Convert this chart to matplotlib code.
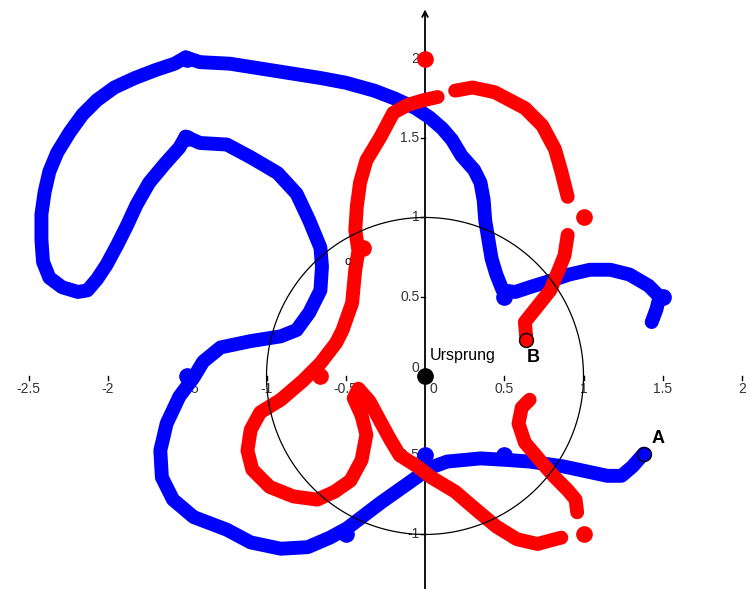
import numpy as np
import matplotlib.pyplot as plt

# Spur von A (blau)
blau_links_x = [-1.51, -1.58, -1.70, -1.83, -1.96, -2.07, -2.16, -2.24, -2.32, -2.37, -2.40, -2.42, -2.42,
                -2.41, -2.37, -2.29, -2.19, -2.13, -2.07, -2.01, -1.94, -1.88, -1.82, -1.74, -1.64, -1.55, -1.51]
blau_links_y = [2.01, 1.97, 1.93, 1.88, 1.82, 1.74, 1.65, 1.54, 1.41, 1.29, 1.16, 1.02, 0.86,
                0.72, 0.62, 0.56, 0.53, 0.54, 0.61, 0.70, 0.83, 0.95, 1.08, 1.22, 1.34, 1.44, 1.51]

blau_oben_x = [-1.51, -1.42, -1.23, -1.04, -0.85, -0.66, -0.50, -0.32, -0.19, -0.06, 0.03, 0.11, 0.17, 0.23,
               0.31, 0.35, 0.37, 0.38, 0.40, 0.42, 0.45, 0.49, 0.57, 0.66, 0.79, 0.91, 1.04, 1.17, 1.29,
               1.41, 1.48, 1.46, 1.43]
blau_oben_y = [2.01, 1.98, 1.97, 1.94, 1.91, 1.88, 1.85, 1.80, 1.75, 1.69, 1.63, 1.56, 1.49, 1.39,
               1.30, 1.22, 1.11, 0.98, 0.86, 0.74, 0.64, 0.54, 0.53, 0.56, 0.60, 0.64, 0.67, 0.67, 0.64,
               0.57, 0.50, 0.42, 0.34]

blau_innen_x = [-1.51, -1.42, -1.25, -1.10, -0.93, -0.81, -0.73, -0.66, -0.65, -0.66, -0.73, -0.81, -0.91,
                -1.10, -1.29, -1.40, -1.46, -1.55, -1.63, -1.67, -1.66, -1.59, -1.46, -1.25, -1.10, -0.91,
                -0.74, -0.60, -0.49, -0.28, -0.11, 0.03, 0.14, 0.35, 0.52, 0.66, 0.87, 1.15, 1.24, 1.31, 1.38]
blau_innen_y = [1.51, 1.47, 1.46, 1.38, 1.28, 1.15, 0.98, 0.81, 0.69, 0.54, 0.40, 0.29, 0.25,
                0.22, 0.18, 0.09, -0.01, -0.13, -0.30, -0.47, -0.64, -0.78, -0.89, -0.97, -1.05, -1.09,
                -1.08, -1.02, -0.96, -0.80, -0.68, -0.58, -0.54, -0.52, -0.53, -0.54, -0.57, -0.63, -0.63,
                -0.57, -0.49]

blau_punkte_x = [-1.5, -1.5, -1.5, -0.5, 0.0, 0.5, 1.5, 0.5]
blau_punkte_y = [2.0, 1.5, 0.0, -1.0, -0.5, -0.5, 0.5, 0.5]

# Spur von B (rot)
rot_b_x = [0.64, 0.63, 0.71, 0.79, 0.84, 0.88, 0.90]
rot_b_y = [0.23, 0.34, 0.44, 0.54, 0.66, 0.76, 0.89]

rot_bogen_x = [0.19, 0.30, 0.44, 0.63, 0.74, 0.82, 0.86, 0.90]
rot_bogen_y = [1.80, 1.82, 1.79, 1.69, 1.58, 1.43, 1.29, 1.13]

rot_lang_x = [0.08, -0.01, -0.11, -0.20, -0.28, -0.37, -0.41, -0.43, -0.44, -0.42, -0.44, -0.46, -0.52,
              -0.56, -0.66, -0.77, -0.91, -1.04, -1.10, -1.12, -1.09, -0.98, -0.83, -0.68, -0.57, -0.47,
              -0.40, -0.37, -0.40, -0.45, -0.42, -0.35, -0.28, -0.22, -0.16, -0.05, 0.04, 0.19, 0.33,
              0.45, 0.58, 0.71, 0.82, 0.86]
rot_lang_y = [1.76, 1.74, 1.71, 1.66, 1.51, 1.36, 1.22, 1.07, 0.92, 0.79, 0.67, 0.46, 0.29,
              0.21, 0.08, -0.03, -0.15, -0.23, -0.34, -0.47, -0.59, -0.70, -0.76, -0.78, -0.73, -0.66,
              -0.53, -0.37, -0.25, -0.14, -0.08, -0.16, -0.29, -0.40, -0.50, -0.57, -0.64, -0.73, -0.85,
              -0.95, -1.03, -1.06, -1.03, -1.02]

rot_unten_x = [0.66, 0.61, 0.59, 0.63, 0.74, 0.82, 0.90, 0.95, 0.96]
rot_unten_y = [-0.15, -0.20, -0.30, -0.42, -0.55, -0.64, -0.72, -0.78, -0.86]

rot_punkte_x = [0.0, 1.0, 1.0, -0.39, -0.66]
rot_punkte_y = [2.0, 1.0, -1.0, 0.81, 0.0]

punkt_a = (1.38, -0.49)
punkt_b = (0.64, 0.23)

x_ticks = [-2.5, -2, -1.5, -1, -0.5, 0.5, 1, 1.5, 2]
x_tick_labels = ['-2.5', '-2', '-1.5', '-1', '-0.5', '0.5', '1', '1.5', '2']
y_ticks = [-1, -0.5, 0.5, 1, 1.5, 2]
y_tick_labels = ['-1', '-0.5', '0.5', '1', '1.5', '2']

plt.rcParams['font.family'] = ['Liberation Sans', 'DejaVu Sans']

fig = plt.figure(figsize=(7.5, 5.89), dpi=100)
ax = fig.add_axes([0, 0, 1, 1])
ax.set_xlim(-2.681, 2.050)
ax.set_ylim(-1.344, 2.372)
ax.set_aspect('equal')
ax.axis('off')

# Achsen mit Pfeilen
ax.annotate('', xy=(2.06, 0), xytext=(-2.62, 0),
            arrowprops=dict(arrowstyle='->', color='black', lw=1.3, mutation_scale=10), zorder=1)
ax.annotate('', xy=(0, 2.33), xytext=(0, -1.36),
            arrowprops=dict(arrowstyle='->', color='black', lw=1.3, mutation_scale=10), zorder=1)

tick_len = 0.028
for xt, lab in zip(x_ticks, x_tick_labels):
    ax.plot([xt, xt], [0, -tick_len], color='black', lw=1.0, zorder=1)
    ax.text(xt, -0.04, lab, ha='center', va='top', fontsize=10, color='#333333', zorder=1)
ax.text(0.03, -0.04, '0', ha='left', va='top', fontsize=10, color='#333333', zorder=1)
for yt, lab in zip(y_ticks, y_tick_labels):
    ax.plot([0, -tick_len], [yt, yt], color='black', lw=1.0, zorder=1)
    ax.text(-0.035, yt, lab, ha='right', va='center', fontsize=10, color='#333333', zorder=1)
ax.text(-0.035, 0.05, '0', ha='right', va='center', fontsize=10, color='#333333', zorder=1)

lw = 10
for xs, ys in [(blau_links_x, blau_links_y), (blau_oben_x, blau_oben_y), (blau_innen_x, blau_innen_y)]:
    ax.plot(xs, ys, color='#0000ff', lw=lw, solid_capstyle='round', solid_joinstyle='round', zorder=2)
ax.plot(blau_punkte_x, blau_punkte_y, 'o', color='#0000ff', ms=11, zorder=2)

for xs, ys in [(rot_b_x, rot_b_y), (rot_bogen_x, rot_bogen_y), (rot_lang_x, rot_lang_y),
               (rot_unten_x, rot_unten_y)]:
    ax.plot(xs, ys, color='#ff0000', lw=lw, solid_capstyle='round', solid_joinstyle='round', zorder=3)
ax.plot(rot_punkte_x, rot_punkte_y, 'o', color='#ff0000', ms=11, zorder=3)

# Einheitskreis c
t = np.linspace(0, 2 * np.pi, 400)
ax.plot(np.cos(t), np.sin(t), color='black', lw=0.9, zorder=4)
ax.text(-0.49, 0.72, 'c', fontsize=9, ha='center', va='center', zorder=4)

# Punkte A, B und Ursprung
ax.plot(*punkt_a, 'o', color='#0000ff', mec='black', mew=1.0, ms=10, zorder=5)
ax.text(punkt_a[0] + 0.05, punkt_a[1] + 0.04, 'A', fontsize=13, fontweight='bold', ha='left', va='bottom', zorder=5)
ax.plot(*punkt_b, 'o', color='#ff0000', mec='black', mew=1.0, ms=10, zorder=5)
ax.text(punkt_b[0] + 0.0, punkt_b[1] - 0.06, 'B', fontsize=13, fontweight='bold', ha='left', va='top', zorder=5)
ax.plot(0, 0, 'o', color='black', ms=11, zorder=5)
ax.text(0.03, 0.08, 'Ursprung', fontsize=11.5, ha='left', va='bottom', zorder=5)

fig.savefig('out.png', dpi=100)
